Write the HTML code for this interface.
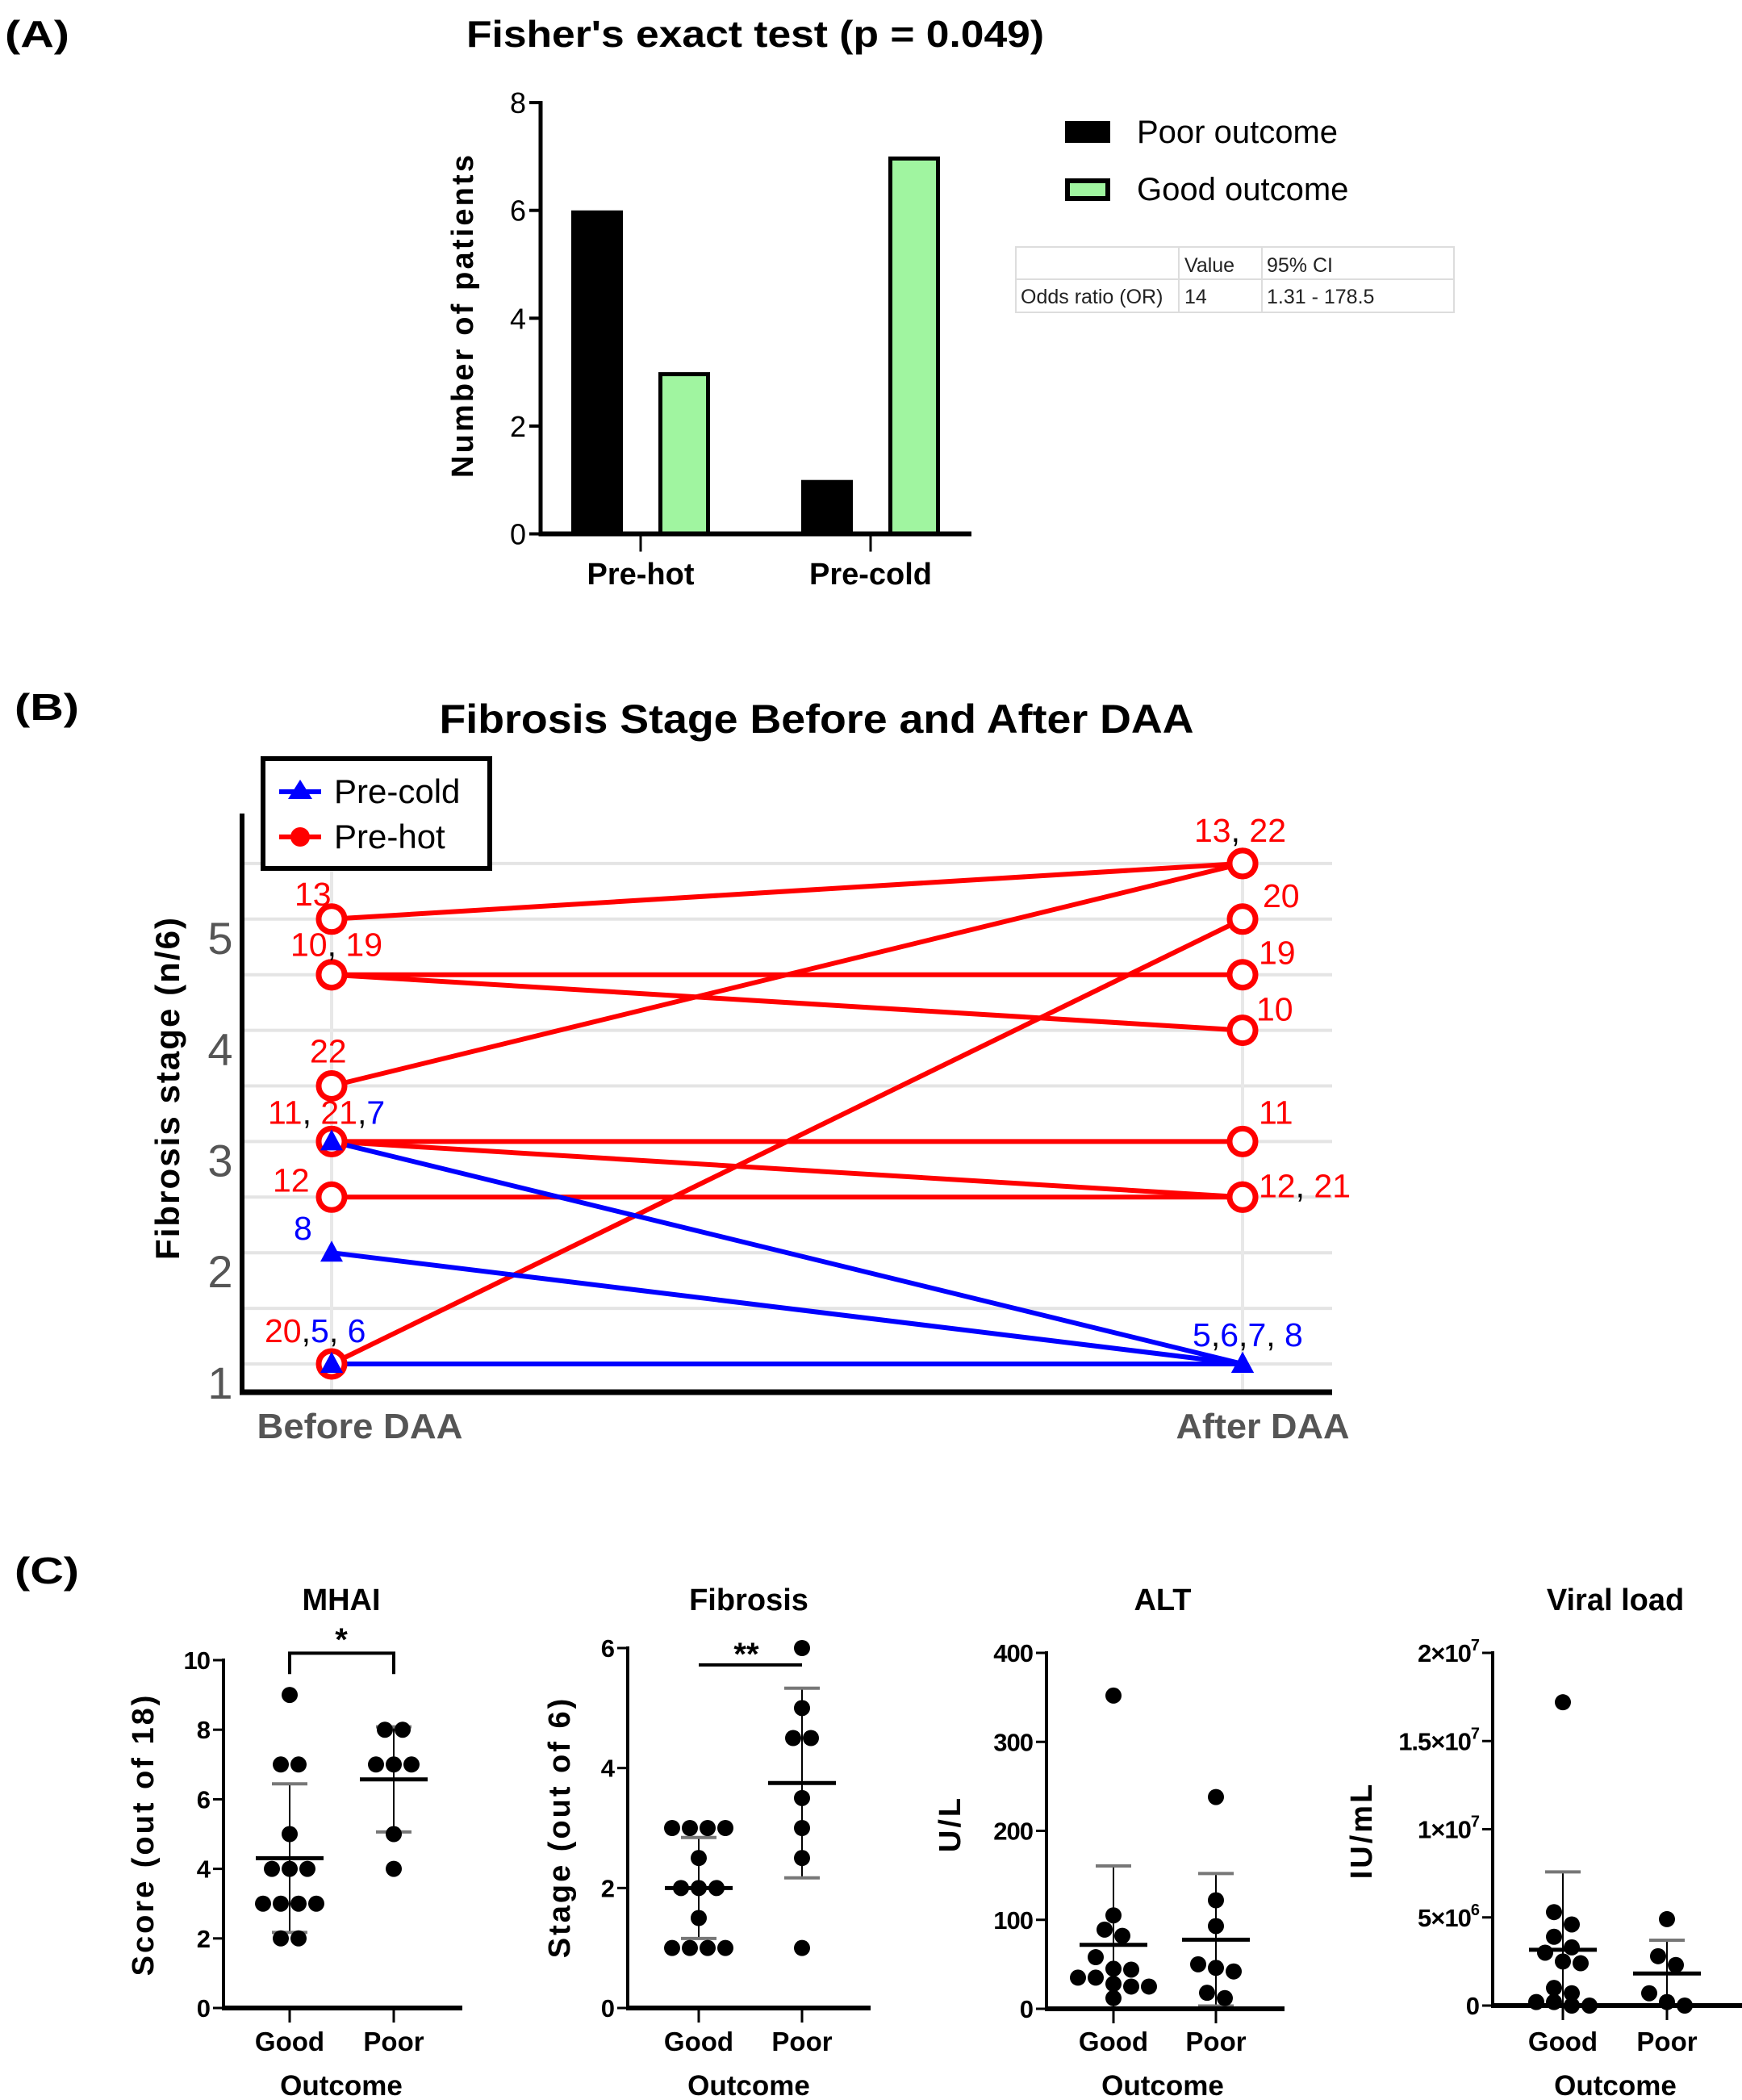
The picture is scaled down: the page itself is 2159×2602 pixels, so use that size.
<!DOCTYPE html>
<html><head><meta charset="utf-8"><title>Figure</title>
<style>
html,body{margin:0;padding:0;background:#fff;}
svg{display:block;font-family:"Liberation Sans",Arial,sans-serif;}
</style></head>
<body>
<svg id="fig" width="2159" height="2602" viewBox="0 0 2159 2602" xmlns="http://www.w3.org/2000/svg">
<rect x="0" y="0" width="2159" height="2602" fill="#fff"/>

<g>
  <text x="6" y="58" font-size="46" font-weight="bold" textLength="80" lengthAdjust="spacingAndGlyphs">(A)</text>
  <text x="578" y="58" font-size="46" font-weight="bold" textLength="716" lengthAdjust="spacingAndGlyphs">Fisher's exact test (p = 0.049)</text>
  <text transform="translate(586,392) rotate(-90)" text-anchor="middle" font-size="38" font-weight="bold" textLength="400" lengthAdjust="spacing">Number of patients</text>
  <g>
    <rect x="1320" y="150" width="56" height="27" fill="#000"/>
    <text x="1409" y="177" font-size="40">Poor outcome</text>
    <rect x="1323" y="224" width="50" height="22" fill="#a0f5a0" stroke="#000" stroke-width="6"/>
    <text x="1409" y="248" font-size="40">Good outcome</text>
  </g>
  <g font-size="25" fill="#222">
    <rect x="1259" y="306" width="543" height="81" fill="#fff" stroke="#ddd" stroke-width="2"/>
    <line x1="1259" y1="346" x2="1802" y2="346" stroke="#ddd" stroke-width="2"/>
    <line x1="1461" y1="306" x2="1461" y2="387" stroke="#ddd" stroke-width="2"/>
    <line x1="1564" y1="306" x2="1564" y2="387" stroke="#ddd" stroke-width="2"/>
    <text x="1468" y="337">Value</text>
    <text x="1570" y="337">95% CI</text>
    <text x="1265" y="376">Odds ratio (OR)</text>
    <text x="1468" y="376">14</text>
    <text x="1570" y="376">1.31 - 178.5</text>
  </g>
</g>
<g id="gA"></g>

<g>
  <text x="18" y="892" font-size="46" font-weight="bold" textLength="80" lengthAdjust="spacingAndGlyphs">(B)</text>
  <text x="1012" y="908" text-anchor="middle" font-size="50" font-weight="bold" textLength="935" lengthAdjust="spacingAndGlyphs">Fibrosis Stage Before and After DAA</text>
  <text transform="translate(222,1349) rotate(-90)" text-anchor="middle" font-size="42" font-weight="bold" textLength="424" lengthAdjust="spacing">Fibrosis stage (n/6)</text>
  <text x="446" y="1782" text-anchor="middle" font-size="44" font-weight="bold" fill="#555" textLength="255" lengthAdjust="spacingAndGlyphs">Before DAA</text>
  <text x="1565" y="1782" text-anchor="middle" font-size="44" font-weight="bold" fill="#555" textLength="215" lengthAdjust="spacingAndGlyphs">After DAA</text>
</g>
<g id="gB"></g>
<g>
  <rect x="326" y="940" width="281" height="136" fill="#fff" stroke="#000" stroke-width="6"/>
  <line x1="346" y1="981" x2="398" y2="981" stroke="#0000ff" stroke-width="6"/>
  <polygon points="372,966 387,990 357,990" fill="#0000ff"/>
  <text x="414" y="995" font-size="42">Pre-cold</text>
  <line x1="346" y1="1037" x2="398" y2="1037" stroke="#ff0000" stroke-width="6"/>
  <circle cx="372" cy="1037" r="12" fill="#ff0000"/>
  <text x="414" y="1051" font-size="42">Pre-hot</text>
</g>

<text x="18" y="1962" font-size="46" font-weight="bold" textLength="80" lengthAdjust="spacingAndGlyphs">(C)</text>
<g id="gC"></g>

<script>
// ---------- Panel A data ----------
const catsA = ['Pre-hot', 'Pre-cold'];
const poorA = [6, 1];
const goodA = [3, 7];
const ticksA = [0, 2, 4, 6, 8];

// ---------- Panel B data ----------
const hotIds = ['13', '22', '20', '19', '10', '11', '12', '21'];
const hotBefore = [5, 3.5, 1, 4.5, 4.5, 3, 2.5, 3];
const hotAfter = [5.5, 5.5, 5, 4.5, 4, 3, 2.5, 2.5];
const coldIds = ['7', '8', '5', '6'];
const coldBefore = [3, 2, 1, 1];
const coldAfter = [1, 1, 1, 1];
const ticksB = [1, 2, 3, 4, 5];
const gridB = [1, 1.5, 2, 2.5, 3, 3.5, 4, 4.5, 5, 5.5];

// ---------- Panel C data ----------
const mhaiGood = [9, 7, 7, 5, 4, 4, 4, 3, 3, 3, 3, 2, 2];
const mhaiPoor = [8, 8, 7, 7, 7, 5, 4];
const fibGood = [3, 3, 3, 3, 2.5, 2, 2, 2, 1.5, 1, 1, 1, 1];
const fibPoor = [6, 5, 4.5, 4.5, 3.5, 3, 2.5, 1];
const altGood = [352, 105, 89, 82, 58, 45, 44, 35, 35, 28, 25, 25, 12];
const altPoor = [238, 122, 93, 50, 46, 42, 18, 12];
const vlGood = [17.2e6, 5.3e6, 4.6e6, 3.9e6, 3.3e6, 3.0e6, 2.5e6, 2.4e6, 1.0e6, 0.7e6, 0, 0.2e6, 0, 0.2e6];
const vlPoor = [4.9e6, 2.8e6, 2.3e6, 0.7e6, 0, 0.2e6];
const ticksMhai = [0, 2, 4, 6, 8, 10];
const ticksFib = [0, 2, 4, 6];
const ticksAlt = [0, 100, 200, 300, 400];
const ticksVl = [0, 5e6, 1e7, 1.5e7, 2e7];
const tickLabelsVl = ['0', '5×10^6', '1×10^7', '1.5×10^7', '2×10^7'];
const groupLabels = ['Good', 'Poor'];

const NS = 'http://www.w3.org/2000/svg';
function mk(parent, tag, attrs, text) {
  const e = document.createElementNS(NS, tag);
  for (const k in attrs) e.setAttribute(k, attrs[k]);
  if (text !== undefined) e.textContent = text;
  parent.appendChild(e);
  return e;
}

// ================= Panel A =================
(function () {
  const g = document.getElementById('gA');
  const y0 = 661.5, unit = 66.8, axX = 670;
  const yA = v => y0 - unit * v;
  const catX = [794, 1079];
  const barW = 64, off = 54;
  catsA.forEach((c, i) => {
    let b = mk(g, 'rect', { x: catX[i] - off - barW / 2, y: yA(poorA[i]), width: barW, height: y0 - yA(poorA[i]), fill: '#000' });
    
    
    let gb = mk(g, 'rect', { x: catX[i] + off - barW / 2 + 2.5, y: yA(goodA[i]) + 2.5, width: barW - 5, height: y0 - yA(goodA[i]) - 2.5, fill: '#a0f5a0', stroke: '#000', 'stroke-width': 5 });
    
    
    let t = mk(g, 'line', { x1: catX[i], y1: y0, x2: catX[i], y2: y0 + 22, stroke: '#000', 'stroke-width': 3 });
    
    
    let l = mk(g, 'text', { x: catX[i], y: 724, 'text-anchor': 'middle', 'font-size': 38, 'font-weight': 'bold' }, c);
    
    
  });
  let ya = mk(g, 'line', { x1: axX, y1: yA(8) - 2, x2: axX, y2: y0 + 3, stroke: '#000', 'stroke-width': 5 });
  
  
  let xa = mk(g, 'line', { x1: axX - 2, y1: y0, x2: 1204, y2: y0, stroke: '#000', 'stroke-width': 6 });
  
  
  ticksA.forEach(v => {
    let t = mk(g, 'line', { x1: axX - 14, y1: yA(v), x2: axX, y2: yA(v), stroke: '#000', 'stroke-width': 4 });
    
    
    let l = mk(g, 'text', { x: axX - 18, y: yA(v) + 13, 'text-anchor': 'end', 'font-size': 36 }, String(v));
    
    
  });
})();

// ================= Panel B =================
(function () {
  const g = document.getElementById('gB');
  const yB = s => 1690 - 137.8 * (s - 1);
  const xB = 411, xA = 1540, axX = 300, axY = 1725, axEnd = 1651;
  gridB.forEach(s => {
    let l = mk(g, 'line', { x1: axX, y1: yB(s), x2: axEnd, y2: yB(s), stroke: '#e4e4e4', 'stroke-width': 4 });
    
    
  });
  [xB, xA].forEach(x => {
    let l = mk(g, 'line', { x1: x, y1: yB(5.5) - 20, x2: x, y2: axY, stroke: '#e8e8e8', 'stroke-width': 4 });
    
    
  });
  let ya = mk(g, 'line', { x1: axX, y1: 1008, x2: axX, y2: axY + 3, stroke: '#000', 'stroke-width': 6 });
  
  
  let xa = mk(g, 'line', { x1: axX - 3, y1: axY, x2: axEnd, y2: axY, stroke: '#000', 'stroke-width': 7 });
  
  
  ticksB.forEach(s => {
    let l = mk(g, 'text', { x: 273, y: yB(s) + 43, 'text-anchor': 'middle', 'font-size': 56, fill: '#555' }, String(s));
    
    
  });
  hotIds.forEach((id, i) => {
    let l = mk(g, 'line', { x1: xB, y1: yB(hotBefore[i]), x2: xA, y2: yB(hotAfter[i]), stroke: '#ff0000', 'stroke-width': 6 });
    
    
  });
  coldIds.forEach((id, i) => {
    let l = mk(g, 'line', { x1: xB, y1: yB(coldBefore[i]), x2: xA, y2: yB(coldAfter[i]), stroke: '#0000ff', 'stroke-width': 6 });
    
    
  });
  hotIds.forEach((id, i) => {
    [[xB, hotBefore[i]], [xA, hotAfter[i]]].forEach(p => {
      let c = mk(g, 'circle', { cx: p[0], cy: yB(p[1]), r: 16, fill: '#fff', stroke: '#ff0000', 'stroke-width': 7 });
      
      
    });
  });
  coldIds.forEach((id, i) => {
    [[xB, coldBefore[i]], [xA, coldAfter[i]]].forEach(p => {
      const cx = p[0], cy = yB(p[1]) + 2;
      let t = mk(g, 'polygon', { points: `${cx},${cy - 17} ${cx + 14},${cy + 9} ${cx - 14},${cy + 9}`, fill: '#0000ff' });
      
      
    });
  });
  const R = '#ff0000', B = '#0000ff', K = '#000';
  const labels = [
    [[['13', R]], 365, hotBefore[0], -32],
    [[['10', R], [',', K], ['   ', K], ['19', R]], 360, hotBefore[4], -38],
    [[['22', R]], 384, hotBefore[1], -44],
    [[['11', R], [',', K], ['  ', K], ['21', R], [',', K], ['7', B]], 332, hotBefore[5], -37],
    [[['12', R]], 338, hotBefore[6], -22],
    [[['8', B]], 364, coldBefore[1], -31],
    [[['20', R], [',', K], ['5', B], [', ', K], ['6', B]], 328, hotBefore[2], -42],
    [[['13', R], [',', K], [' 22', R]], 1480, hotAfter[0], -42],
    [[['20', R]], 1565, hotAfter[2], -30],
    [[['19', R]], 1560, hotAfter[3], -28],
    [[['10', R]], 1557, hotAfter[4], -27],
    [[['11', R]], 1560, hotAfter[5], -37],
    [[['12', R], [',', K], [' 21', R]], 1560, hotAfter[7], -15]
  ];
  labels.forEach(lb => {
    let t = mk(g, 'text', { x: lb[1], y: yB(lb[2]) + lb[3] + 15, 'font-size': 41, 'xml:space': 'preserve' });
    
    
    lb[0].forEach(s => mk(t, 'tspan', { fill: s[1] }, s[0]));
  });
  let t = mk(g, 'text', { x: 1478, y: yB(coldAfter[0]) - 22, 'font-size': 41 });
  
  
  [['5', B], [',', K], ['6', B], [',', K], ['7', B], [', ', K], ['8', B]].forEach(s => mk(t, 'tspan', { fill: s[1] }, s[0]));
})();

// ================= Panel C =================
function mean(a) { return a.reduce((s, v) => s + v, 0) / a.length; }
function sd(a) { const m = mean(a); return Math.sqrt(a.reduce((s, v) => s + (v - m) * (v - m), 0) / (a.length - 1)); }

function scatter(cfg) {
  const g = mk(document.getElementById('gC'), 'g', {});
  
  
  const y = v => cfg.y0 - (cfg.y0 - cfg.yTop) * v / cfg.max;
  const xs = [cfg.goodX, cfg.poorX];
  let ti = mk(g, 'text', { x: cfg.cx, y: 1995, 'text-anchor': 'middle', 'font-size': 38, 'font-weight': 'bold' }, cfg.title);
  
  
  let yt = mk(g, 'text', { transform: `translate(${cfg.ytX},${cfg.ytY}) rotate(-90)`, 'text-anchor': 'middle', 'font-size': 38, 'font-weight': 'bold', 'letter-spacing': 3 }, cfg.ytitle);
  
  
  let ya = mk(g, 'line', { x1: cfg.axX, y1: y(cfg.max) - 2, x2: cfg.axX, y2: cfg.y0 + 3, stroke: '#000', 'stroke-width': 4 });
  
  
  cfg.ticks.forEach((v, i) => {
    let tk = mk(g, 'line', { x1: cfg.axX - 13, y1: y(v), x2: cfg.axX, y2: y(v), stroke: '#000', 'stroke-width': 3 });
    
    
    const lab = cfg.tickLabels ? cfg.tickLabels[i] : String(v);
    let tl = mk(g, 'text', { x: cfg.axX - 17, y: y(v) + 11, 'text-anchor': 'end', 'font-size': 31, 'font-weight': 'bold', 'letter-spacing': -1 });
    
    
    const parts = lab.split('^');
    mk(tl, 'tspan', {}, parts[0]);
    if (parts[1]) mk(tl, 'tspan', { dy: -14, 'font-size': 20 }, parts[1]);
  });
  groupLabels.forEach((gl, i) => {
    let tk = mk(g, 'line', { x1: xs[i], y1: cfg.y0, x2: xs[i], y2: cfg.y0 + 18, stroke: '#000', 'stroke-width': 3 });
    
    
    let l = mk(g, 'text', { x: xs[i], y: 2541, 'text-anchor': 'middle', 'font-size': 33, 'font-weight': 'bold' }, gl);
    
    
  });
  let oc = mk(g, 'text', { x: cfg.cx, y: 2596, 'text-anchor': 'middle', 'font-size': 35, 'font-weight': 'bold' }, 'Outcome');
  
  
  [cfg.good, cfg.poor].forEach((arr, gi) => {
    const m = mean(arr), s = sd(arr), cx = xs[gi];
    const lo = Math.max(m - s, 0), hi = m + s;
    let eb = mk(g, 'line', { x1: cx, y1: y(lo), x2: cx, y2: y(hi), stroke: '#000', 'stroke-width': 2 });
    
    
    [m - s, m + s].forEach(v => {
      if (v < 0) return;
      let c = mk(g, 'line', { x1: cx - 22, y1: y(v), x2: cx + 22, y2: y(v), stroke: '#777', 'stroke-width': 4 });
      
      
    });
    const idx = arr.map((v, i) => i).sort((a, b) => arr[b] - arr[a]);
    const groups = [];
    idx.forEach(i => {
      const py = y(arr[i]);
      const last = groups[groups.length - 1];
      if (last && Math.abs(y(arr[last[0]]) - py) < 16) last.push(i); else groups.push([i]);
    });
    groups.forEach(gr => {
      gr.forEach((i, k) => {
        const ox = (k - (gr.length - 1) / 2) * 22;
        let d = mk(g, 'circle', { cx: cx + ox, cy: y(arr[i]), r: 10, fill: '#000' });
        
        
      });
    });
    let ml = mk(g, 'line', { x1: cx - 42, y1: y(m), x2: cx + 42, y2: y(m), stroke: '#000', 'stroke-width': 5 });
    
    
  });
  let xa = mk(g, 'line', { x1: cfg.axX - 2, y1: cfg.y0, x2: cfg.axEnd, y2: cfg.y0, stroke: '#000', 'stroke-width': 6 });
  
  
  return { g, y };
}

const pm = scatter({ name: 'mhai', title: 'MHAI', ytitle: 'Score (out of 18)', good: mhaiGood, poor: mhaiPoor, ticks: ticksMhai, max: 10, y0: 2488, yTop: 2057, axX: 277, axEnd: 573, goodX: 359, poorX: 488, cx: 423, ytX: 190, ytY: 2273 });
(function () {
  const b = mk(pm.g, 'path', { d: `M359,${pm.y(9.6)} V${pm.y(10.2)} H488 V${pm.y(9.6)}`, fill: 'none', stroke: '#000', 'stroke-width': 4 });
  
  
  const s = mk(pm.g, 'text', { x: 423, y: 2045, 'text-anchor': 'middle', 'font-size': 40, 'font-weight': 'bold' }, '*');
  
  
})();
const pf = scatter({ name: 'fibrosis', title: 'Fibrosis', ytitle: 'Stage (out of 6)', good: fibGood, poor: fibPoor, ticks: ticksFib, max: 6, y0: 2488, yTop: 2042, axX: 778, axEnd: 1079, goodX: 866, poorX: 994, cx: 928, ytX: 706, ytY: 2264 });
(function () {
  const b = mk(pf.g, 'line', { x1: 866, y1: pf.y(5.72), x2: 994, y2: pf.y(5.72), stroke: '#000', 'stroke-width': 4 });
  
  
  const s = mk(pf.g, 'text', { x: 925, y: 2063, 'text-anchor': 'middle', 'font-size': 40, 'font-weight': 'bold' }, '**');
  
  
})();
scatter({ name: 'alt', title: 'ALT', ytitle: 'U/L', good: altGood, poor: altPoor, ticks: ticksAlt, max: 400, y0: 2489, yTop: 2048, axX: 1297, axEnd: 1592, goodX: 1380, poorX: 1507, cx: 1441, ytX: 1190, ytY: 2260 });
scatter({ name: 'viral-load', title: 'Viral load', ytitle: 'IU/mL', good: vlGood, poor: vlPoor, ticks: ticksVl, tickLabels: tickLabelsVl, max: 2e7, y0: 2485, yTop: 2048, axX: 1850, axEnd: 2159, goodX: 1937, poorX: 2066, cx: 2002, ytX: 1700, ytY: 2268 });
</script>
</svg>
</body></html>
